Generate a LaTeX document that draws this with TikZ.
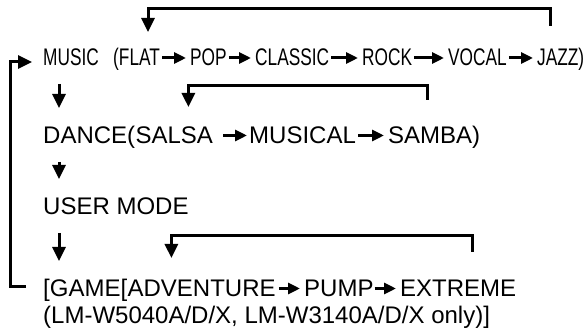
\documentclass[tikz,border=0pt]{standalone}
\usepackage{fontspec}
\setmainfont{Liberation Sans}
\newfontfamily\narrowfont[FakeStretch=0.72]{Liberation Sans}
\usetikzlibrary{arrows.meta,positioning}

\tikzset{
  word/.style={inner sep=0pt, anchor=base west, font=\fontsize{24}{24}\selectfont},
  narrow word/.style={word, font=\narrowfont\fontsize{24}{24}\selectfont},
  text arrow/.style={line width=3pt, -{Triangle[length=12pt,width=11pt]}, shorten <=2pt, shorten >=4pt},
  loop arrow/.style={line width=3pt, -{Triangle[length=14pt,width=13pt]}},
}

\begin{document}
\begin{tikzpicture}[x=1pt,y=1pt]
  \useasboundingbox (0,0) rectangle (585,331);

  % Music line (narrow letters)
  \node[narrow word] (music) at (43,265) {MUSIC};
  \node[narrow word] (flat) at (113,265) {(FLAT};
  \node[narrow word] (pop) at (190,265) {POP};
  \node[narrow word] (classic) at (255,265) {CLASSIC};
  \node[narrow word] (rock) at (362,265) {ROCK};
  \node[narrow word] (vocal) at (448,265) {VOCAL};
  \node[narrow word] (jazz) at (537,265) {JAZZ)};
  \foreach \a/\b in {flat/pop, pop/classic, classic/rock, rock/vocal, vocal/jazz}
    \draw[text arrow] ([yshift=8pt]\a.base east) -- ([yshift=8pt]\b.base west);

  % Dance line
  \node[word] (dance) at (43,187) {DANCE(};
  \node[word, base right=0pt of dance] (salsa) {SALSA};
  \node[word] (musical) at (249,187) {MUSICAL};
  \node[word] (samba) at (388,187) {SAMBA)};
  \draw[text arrow, shorten <=10pt, shorten >=2pt] ([yshift=8.5pt]salsa.base east) -- ([yshift=8.5pt]musical.base west);
  \draw[text arrow] ([yshift=8.5pt]musical.base east) -- ([yshift=8.5pt]samba.base west);

  % User mode
  \node[word] (user) at (43,116) {USER MODE};

  % Game line
  \node[word] (game) at (43,34) {[GAME[};
  \node[word, base right=0pt of game] (adventure) {ADVENTURE};
  \node[word] (pump) at (304,34) {PUMP};
  \node[word] (extreme) at (400,34) {EXTREME};
  \node[word] (models) at (43,7.5) {(LM-W5040A/D/X, LM-W3140A/D/X only)]};
  \draw[text arrow, shorten <=3pt] ([yshift=8.5pt]adventure.base east) -- ([yshift=8.5pt]pump.base west);
  \draw[text arrow, shorten <=1pt] ([yshift=8.5pt]pump.base east) -- ([yshift=8.5pt]extreme.base west);

  % Mode order
  \foreach \a/\b in {music/dance, dance/user, user/game}
    \draw[loop arrow] ([shift={(16pt,-18pt)}]\a.base west) -- ([shift={(16pt,36pt)}]\b.base west);
  \draw[loop arrow] ([shift={(-17pt,10pt)}]game.base west) -- ++(-16,0)
    |- ([shift={(-11pt,4pt)}]music.base west);

  % Loops inside each mode
  \draw[loop arrow] ([shift={(13pt,40pt)}]jazz.base west) -- ++(0,17)
    -| ([shift={(35pt,34pt)}]flat.base west);
  \draw[loop arrow] ([shift={(39pt,44pt)}]samba.base west) -- ++(0,14)
    -| ([shift={(53pt,37pt)}]salsa.base west);
  \draw[loop arrow] ([shift={(72pt,45pt)}]extreme.base west) -- ++(0,16)
    -| ([shift={(44pt,39pt)}]adventure.base west);
\end{tikzpicture}
\end{document}
